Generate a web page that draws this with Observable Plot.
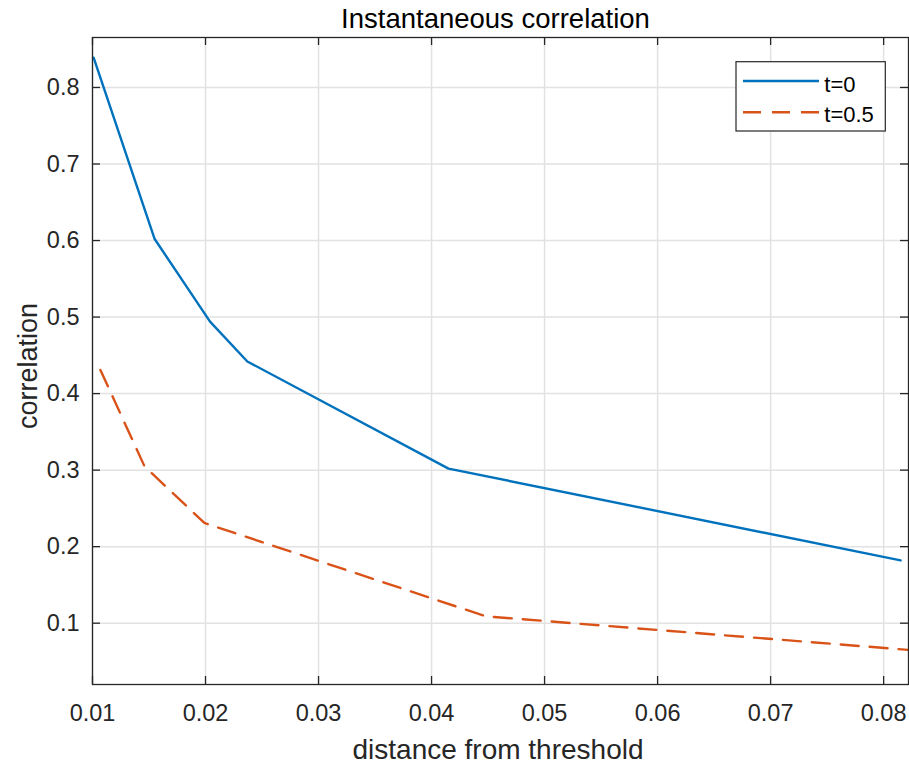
<!DOCTYPE html>
<html>
<head>
<meta charset="utf-8">
<script src="https://cdn.jsdelivr.net/npm/d3@7"></script>
<script src="https://cdn.jsdelivr.net/npm/@observablehq/plot@0.6"></script>
<style>
  html, body { margin: 0; padding: 0; background: #fff; }
  #chart { width: 909px; height: 765px; }
</style>
</head>
<body>
<div id="chart"></div>
<script>
// ---- data ----
const distanceT0 = [0.0101, 0.0155, 0.0204, 0.0237, 0.0415, 0.0815];
const corrT0     = [0.839, 0.602, 0.494, 0.442, 0.302, 0.182];
const distanceT05 = [0.0107, 0.0146, 0.0199, 0.0448, 0.0823];
const corrT05     = [0.431, 0.305, 0.231, 0.109, 0.065];
const seriesNames = ["t=0", "t=0.5"];
const xTicks = [0.01, 0.02, 0.03, 0.04, 0.05, 0.06, 0.07, 0.08];
const yTicks = [0.1, 0.2, 0.3, 0.4, 0.5, 0.6, 0.7, 0.8];
const xDomain = [0.01, 0.0822];
const yDomain = [0.0199, 0.8653];

const rowsT0 = distanceT0.map((d, i) => ({x: d, y: corrT0[i]}));
const rowsT05 = distanceT05.map((d, i) => ({x: d, y: corrT05[i]}));

// ---- layout ----
const W = 909, H = 765;
const mL = 92, mR = 1, mT = 37, mB = 81;
const fw = W - mL - mR, fh = H - mT - mB;
const axisColor = "#262626";
const gridColor = "#e2e2e2";
const blue = "#0072BD", orange = "#D95319";
const font = "'Liberation Sans', Arial, Helvetica, sans-serif";
const tickLen = 8;
const lw = 2.4;

const chart = Plot.plot({
  width: W, height: H,
  marginLeft: mL, marginRight: mR, marginTop: mT, marginBottom: mB,
  style: {fontFamily: font, background: "#fff", color: axisColor, overflow: "visible"},
  x: {domain: xDomain},
  y: {domain: yDomain},
  marks: [
    Plot.gridX(xTicks, {stroke: gridColor, strokeOpacity: 1, strokeWidth: 1.5}),
    Plot.gridY(yTicks, {stroke: gridColor, strokeOpacity: 1, strokeWidth: 1.5}),
    Plot.line(rowsT0, {x: "x", y: "y", stroke: blue, strokeWidth: lw, clip: true}),
    Plot.line(rowsT05, {x: "x", y: "y", stroke: orange, strokeWidth: lw, strokeDasharray: "18,11", clip: true}),
    Plot.frame({stroke: axisColor, strokeWidth: 1.3}),
    // inward ticks
    Plot.ruleX(xTicks, {x: d => d, insetTop: fh - tickLen, stroke: axisColor, strokeWidth: 1.3}),
    Plot.ruleX(xTicks, {x: d => d, insetBottom: fh - tickLen, stroke: axisColor, strokeWidth: 1.3}),
    Plot.ruleY(yTicks, {y: d => d, insetRight: fw - tickLen, stroke: axisColor, strokeWidth: 1.3}),
    Plot.ruleY(yTicks, {y: d => d, insetLeft: fw - tickLen, stroke: axisColor, strokeWidth: 1.3}),
    Plot.axisX({ticks: xTicks, tickSize: 0, tickPadding: 20, tickFormat: d3.format(".2f"), fontSize: 23.5, label: null, fill: axisColor}),
    Plot.axisY({ticks: yTicks, tickSize: 0, tickPadding: 13, tickFormat: d3.format(".1f"), fontSize: 23.5, label: null, fill: axisColor}),
    Plot.text(["Instantaneous correlation"], {frameAnchor: "top", lineAnchor: "bottom", textAnchor: "middle", dy: -10, dx: -5, fontSize: 27.5, fill: "#000"}),
    Plot.text(["distance from threshold"], {frameAnchor: "bottom", lineAnchor: "bottom", textAnchor: "middle", dy: 74, dx: -2.5, fontSize: 28, fill: axisColor}),
    Plot.text(["correlation"], {frameAnchor: "left", lineAnchor: "bottom", textAnchor: "middle", rotate: -90, dx: -56, dy: 5, fontSize: 27, fill: axisColor})
  ]
});

// ---- legend (inside the axes, top-right) ----
const svg = d3.select(chart);
const lg = svg.append("g").attr("font-family", font).attr("text-anchor", "start");
const bx = 736, by = 61.7, bw = 149.3, bh = 69.3;
lg.append("rect").attr("x", bx).attr("y", by).attr("width", bw).attr("height", bh)
  .attr("fill", "#fff").attr("stroke", axisColor).attr("stroke-width", 1.2);
const legendItems = [
  {name: seriesNames[0], color: blue, dash: null, yLine: 81, yText: 91.7},
  {name: seriesNames[1], color: orange, dash: "18,11", yLine: 112.3, yText: 121.7}
];
for (const it of legendItems) {
  const l = lg.append("line").attr("x1", 743).attr("x2", 819).attr("y1", it.yLine).attr("y2", it.yLine)
    .attr("stroke", it.color).attr("stroke-width", lw);
  if (it.dash) l.attr("stroke-dasharray", it.dash);
  lg.append("text").attr("x", 824.3).attr("y", it.yText).attr("font-size", 22)
    .attr("text-anchor", "start").attr("fill", "#000").text(it.name);
}

document.getElementById("chart").appendChild(chart);
</script>
</body>
</html>
